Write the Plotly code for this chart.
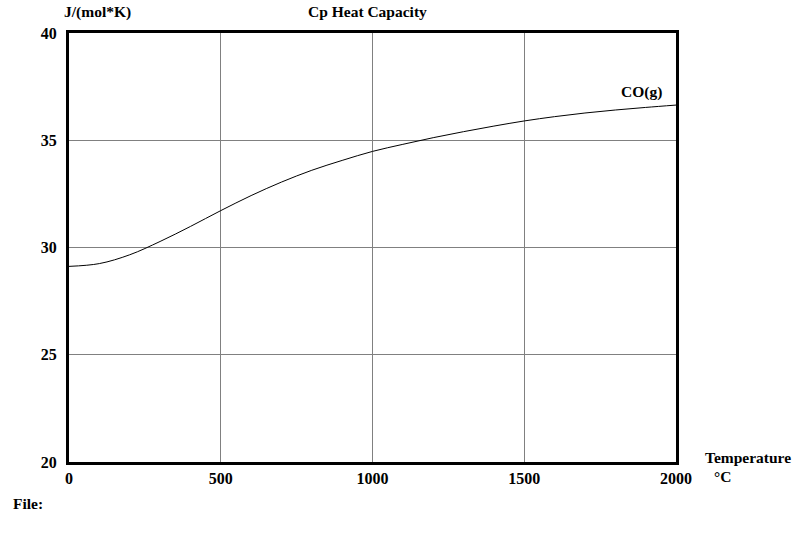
import plotly.graph_objects as go

temperature = [0, 100, 200, 300, 400, 500, 600, 700, 800, 900, 1000,
               1100, 1200, 1300, 1400, 1500, 1600, 1700, 1800, 1900, 2000]
cp_co = [29.12, 29.25, 29.66, 30.28, 30.98, 31.72, 32.42, 33.05, 33.60, 34.06, 34.48,
         34.81, 35.12, 35.40, 35.66, 35.90, 36.10, 36.27, 36.41, 36.53, 36.64]
x_ticks = [0, 500, 1000, 1500, 2000]
y_ticks = [20, 25, 30, 35, 40]
series_name = "CO(g)"

FONT = "Liberation Serif, Times New Roman, serif"
TXT = 15.5

fig = go.Figure()
fig.add_trace(go.Scatter(x=temperature, y=cp_co, mode="lines",
                         line=dict(color="black", width=1, shape="spline"),
                         name=series_name, showlegend=False, hoverinfo="x+y"))

fig.update_layout(
    width=803, height=539,
    margin=dict(l=69, r=127, t=33, b=77),
    paper_bgcolor="white", plot_bgcolor="white",
    font=dict(family=FONT, size=16, color="black"),
    xaxis=dict(range=[0, 2000], tickvals=x_ticks, ticktext=[f"<b>{v}</b>" for v in x_ticks],
               showgrid=True, gridcolor="#808080", gridwidth=1,
               showline=True, linecolor="black", linewidth=3, mirror=True,
               ticks="", zeroline=False, ticklabelstandoff=0),
    yaxis=dict(range=[20, 40], tickvals=y_ticks, ticktext=[f"<b>{v}</b>" for v in y_ticks],
               showgrid=True, gridcolor="#808080", gridwidth=1,
               showline=True, linecolor="black", linewidth=3, mirror=True,
               ticks="", zeroline=False, ticklabelstandoff=6),
    annotations=[
        dict(text="<b>J/(mol*K)</b>", xref="paper", yref="paper", x=0.0, y=1.0, xshift=-7.5, yshift=21.5,
             xanchor="left", yanchor="middle", showarrow=False, font=dict(size=TXT)),
        dict(text="<b>Cp Heat Capacity</b>", xref="paper", yref="paper", x=0.491, y=1.0, yshift=21.5,
             xanchor="center", yanchor="middle", showarrow=False, font=dict(size=TXT)),
        dict(text=f"<b>{series_name}</b>", xref="x", yref="y", x=2000, y=cp_co[-1],
             xanchor="right", yanchor="bottom", xshift=-12, yshift=2, showarrow=False,
             font=dict(size=TXT)),
        dict(text="<b>Temperature</b>", xref="paper", yref="paper", x=1.0, y=0.0, xshift=26.5, yshift=5,
             xanchor="left", yanchor="middle", showarrow=False, font=dict(size=TXT)),
        dict(text="<b>°C</b>", xref="paper", yref="paper", x=1.0, y=0.0, xshift=36, yshift=-14.5,
             xanchor="left", yanchor="middle", showarrow=False, font=dict(size=TXT)),
        dict(text="<b>File:</b>", xref="paper", yref="paper", x=0.0, y=0.0, xshift=-58, yshift=-41,
             xanchor="left", yanchor="middle", showarrow=False, font=dict(size=TXT)),
    ],
)

fig.write_html("out.html", config={"displayModeBar": False},
               post_script="document.body.style.margin='0';document.body.style.overflow='hidden';")
